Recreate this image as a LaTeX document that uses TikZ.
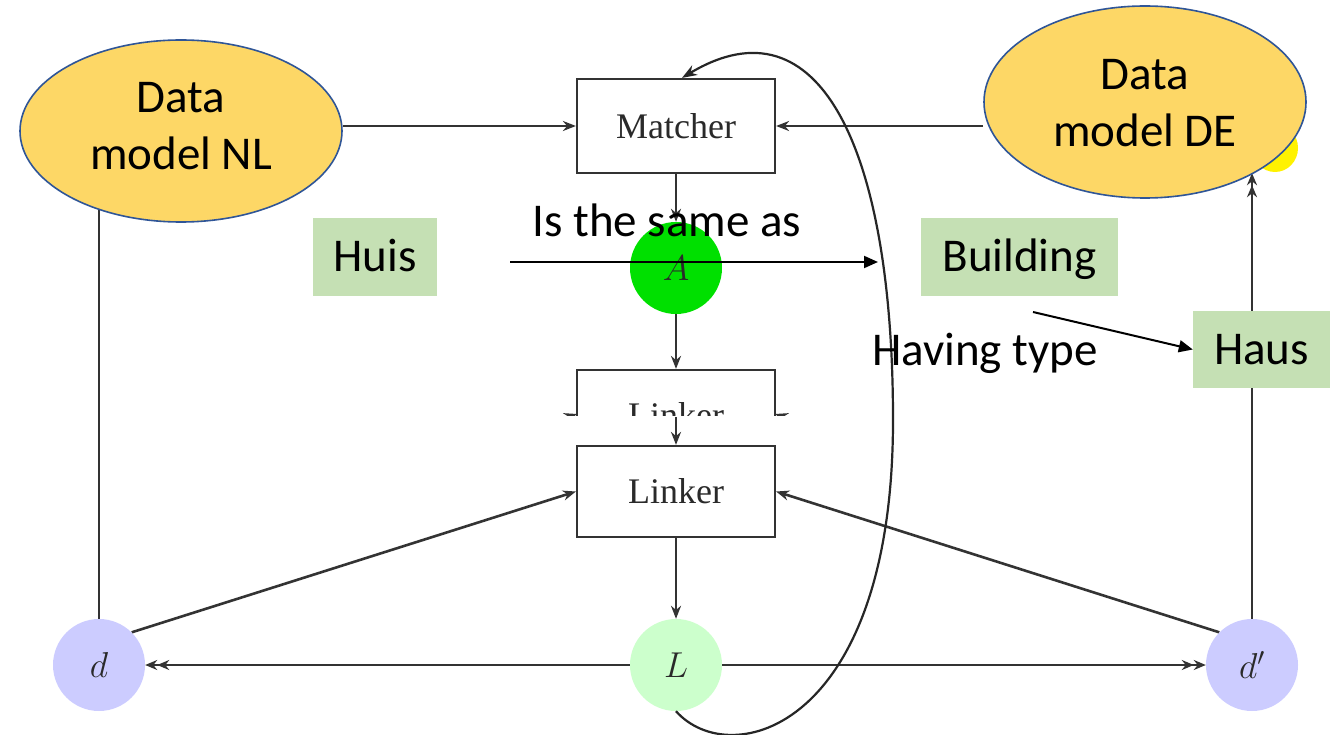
\RequirePackage{fix-cm}
\documentclass[tikz,border=0pt]{standalone}
\usepackage{fontspec}
\setmainfont{Liberation Serif}
\newfontfamily\calibri{Carlito}
\usetikzlibrary{arrows.meta,shapes.geometric}
\pgfdeclarelayer{background}
\pgfsetlayers{background,main}

\definecolor{gold}{HTML}{FDD766}
\definecolor{edgeblue}{HTML}{2F5597}
\definecolor{termgreen}{HTML}{C5E0B4}
\definecolor{linegray}{HTML}{333333}
\definecolor{textgray}{HTML}{2A2A2A}
\definecolor{agreen}{HTML}{00E000}
\definecolor{lgreen}{HTML}{CCFFCC}
\definecolor{dblue}{HTML}{CCCCFF}
\definecolor{glow}{HTML}{FFF200}

\tikzset{
  bigfont/.style={font=\calibri\fontsize{47}{57}\selectfont},
  datamodel/.style={ellipse, draw=edgeblue, line width=1.6pt, fill=gold,
    minimum width=322pt, inner sep=0pt, align=center, bigfont, text depth=0pt},
  term/.style={rectangle, fill=termgreen, inner sep=0pt, bigfont,
    text height=30pt, text depth=0pt},
  caption/.style={bigfont, inner sep=0pt, anchor=base},
  proc/.style={rectangle, draw=linegray, line width=2.2pt, fill=white,
    minimum width=198pt, inner sep=0pt, text=textgray,
    font=\fontsize{36}{40}\selectfont},
  state/.style={circle, minimum size=92pt, inner sep=0pt, text=textgray,
    font=\fontsize{36}{40}\selectfont},
  tip/.style={Stealth[length=13pt,width=10pt]},
  flow/.style={draw=linegray, line width=2.6pt, -{Stealth[length=13pt,width=10pt]}},
  dflow/.style={draw=linegray, line width=2.6pt,
    -{Stealth[length=12pt,width=10pt]Stealth[length=12pt,width=10pt]}},
  plain/.style={draw=linegray, line width=2.6pt},
  loop/.style={draw=black!85, line width=2.2pt,
    -{Stealth[length=15pt,width=11pt]}},
  note/.style={draw=black, line width=2pt,
    -{Triangle[length=14pt,width=12pt]}},
}

\begin{document}
\begin{tikzpicture}[x=1pt,y=-1pt]
\begin{pgfonlayer}{background}
  \fill[white] (0,0) rectangle (1338,735);
\end{pgfonlayer}
\useasboundingbox (0,0) rectangle (1338,735);

% yellow rim peeking out behind the German data model
\fill[glow] (1275,148) ellipse[x radius=23pt, y radius=24pt];

% data models
\node[datamodel, minimum height=182pt, text height=78pt] (nl) at (181,131) {Data\\model NL};
\node[datamodel, minimum height=192pt, text height=90pt] (de) at (1145,102) {Data\\model DE};

% processing boxes and states
\node[proc, minimum height=94pt] (matcher) at (676,126) {Matcher};
\node[state, fill=agreen] (A) at (676,268) {$A$};
\begin{scope}
  \clip (530,340) rectangle (820,415);
  \coordinate (ghostd) at (132,556);
  \coordinate (ghostdp) at (1220,556);
  \draw[flow] (ghostd) -- (676-99,414);
  \draw[flow] (ghostdp) -- (676+99,414);
  \node[proc, minimum height=91pt] (linkerA) at (676,415.5) {Linker};
\end{scope}
\node[proc, minimum height=91pt] (linkerB) at (676,491.5) {Linker};
\node[state, fill=lgreen] (L) at (676,665) {$L$};
\node[state, fill=dblue] (d) at (99,665) {$d$};
\node[state, fill=dblue] (dp) at (1252,665) {$d'$};

% connectors of the matching pipeline
\begin{pgfonlayer}{background}
  \draw[flow] (nl.east |- matcher.west) -- (matcher.west);
  \draw[flow] (de.west |- matcher.east) -- (matcher.east);
  \draw[flow] (matcher.south) -- (A.north);
  \draw[flow] (A.south) -- (linkerA.north);
  \coordinate (seam) at (676,417);
  \draw[flow] (seam) -- (linkerB.north);
  \draw[flow] (linkerB.south) -- (L.north);
  \draw[flow] (d.north east) -- (linkerB.west);
  \draw[flow] (dp.north west) -- (linkerB.east);
  \draw[dflow] (L.west) -- (d.east);
  \draw[dflow] (L.east) -- (dp.west);
  \draw[plain] (d.north) -- (d.north |- nl.-136.4);
  \draw[dflow] (dp.north) -- (dp.north |- de.-33.8);
\end{pgfonlayer}

% feedback loop from the link set back to the matcher
\draw[loop] (L.south) .. controls (730,772) and (893,730) .. (893,420)
  .. controls (893,150) and (820,-5) .. ([xshift=6pt]matcher.north);

% example terms
\node[term, minimum width=124pt, minimum height=78pt] (huis) at (375,257) {Huis};
\node[term, minimum width=197pt, minimum height=78pt] (building) at (1019.5,257) {Building};
\node[term, minimum width=137pt, minimum height=77pt] (haus) at (1261.5,349.5) {Haus};

\node[caption] (same) at (667,237) {Is the same as};
\coordinate (samefrom) at (510,262);
\coordinate (sameto) at (878,262);
\draw[note] (samefrom) -- (sameto);

\node[caption] (typed) at (985,365) {Having type};
\coordinate (typefrom) at (1033,312);
\draw[note] (typefrom) -- (haus.west);
\end{tikzpicture}
\end{document}
